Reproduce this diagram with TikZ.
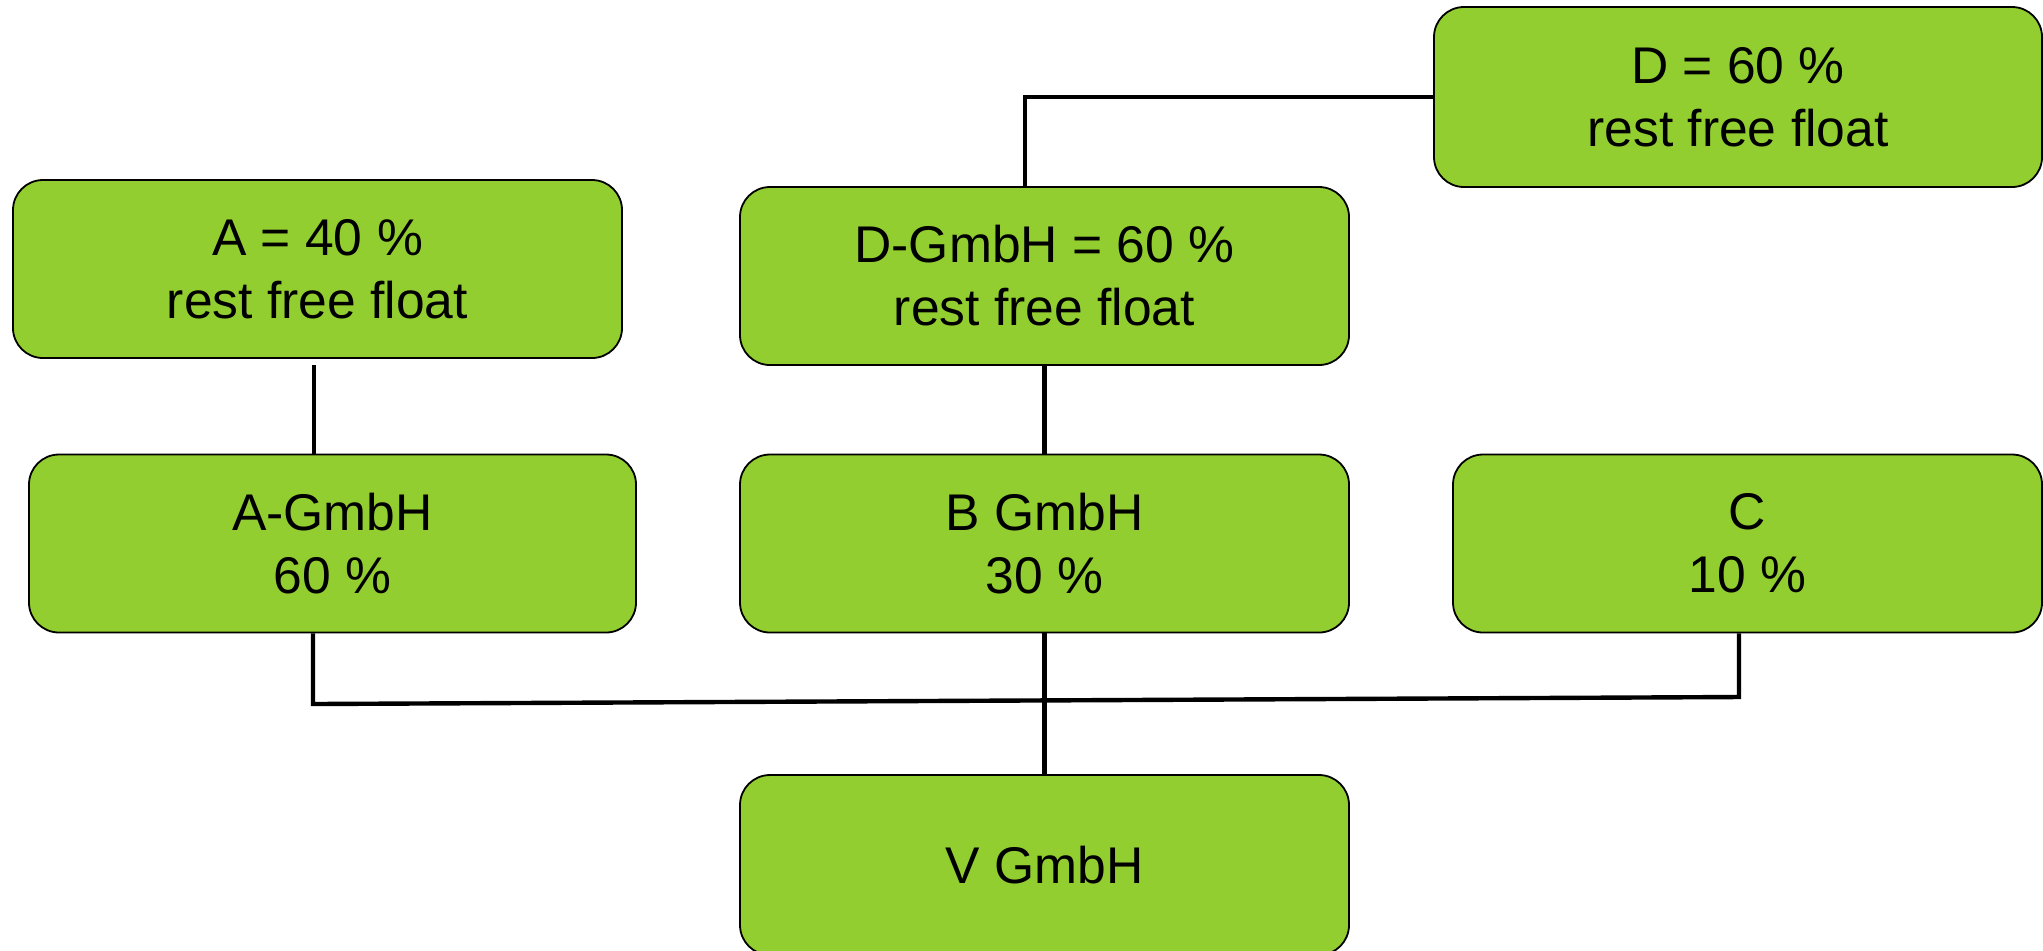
\documentclass[tikz,border=0pt]{standalone}
\usepackage{fontspec}
\setmainfont{Liberation Sans}
\definecolor{boxgreen}{HTML}{93CE30}
\begin{document}
\begin{tikzpicture}[x=0.5pt,y=-0.5pt,
  box/.style={draw=black, line width=0.9pt, fill=boxgreen, rounded corners=15pt,
    minimum width=304.5pt, minimum height=89pt, inner sep=0pt, align=center,
    font=\fontsize{25.8pt}{31.5pt}\selectfont},
  conn/.style={draw=black, line width=2.2pt}]
\useasboundingbox (0,0) rectangle (2043,950);
\clip (0,0) rectangle (2043,950);
\node[box] (A)  at (317.5,269)  {A = 40 \%\\rest free float};
\node[box] (DG) at (1044.5,276) {D-GmbH = 60 \%\\rest free float};
\node[box, minimum width=304pt, minimum height=90pt] (D) at (1738,97) {D = 60 \%\\rest free float};
\node[box, minimum width=303.5pt] (AG) at (332.5,543.5) {A-GmbH\\60 \%};
\node[box] (B)  at (1044.5,543.5) {B GmbH\\30 \%};
\node[box, minimum width=294.5pt] (C) at (1747.5,543.5) {C\\10 \%};
\node[box, minimum height=90pt] (V) at (1044.5,865) {V GmbH};
\coordinate (a1) at (314,365);
\coordinate (dj) at (1025,97);
\coordinate (jl) at (313,704);
\coordinate (jr) at (1739,697);
\draw[conn] (a1) -- (a1 |- AG.north);
\draw[conn] (D.west) -- (dj) -- (dj |- DG.north);
\draw[conn] (DG.south) -- (B.north);
\draw[conn] (B.south) -- (V.north);
\draw[conn] (jl |- AG.south) -- (jl) -- (jr) -- (jr |- C.south);
\end{tikzpicture}
\end{document}
